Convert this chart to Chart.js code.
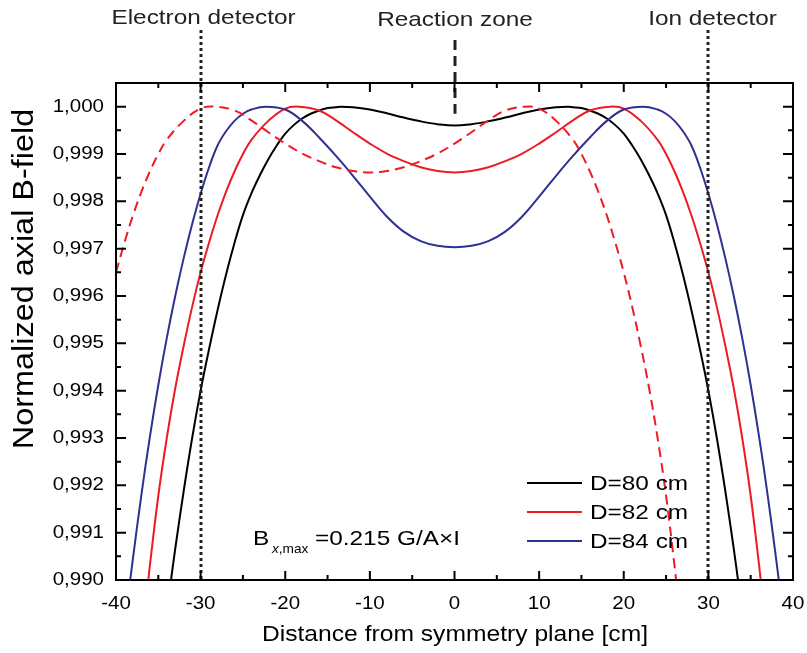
<!DOCTYPE html>
<html>
<head>
<meta charset="utf-8">
<script src="https://cdn.jsdelivr.net/npm/chart.js@4.4.0/dist/chart.umd.min.js"></script>
<style>
  html, body { margin: 0; padding: 0; background: #fff; }
  canvas { display: block; }
</style>
</head>
<body>
<canvas id="chart" width="807" height="653"></canvas>
<script>
// Axis ticks
var xTicks = [-40, -30, -20, -10, 0, 10, 20, 30, 40];
var xMinor = [-35, -25, -15, -5, 5, 15, 25, 35];
var yTicks = [0.990, 0.991, 0.992, 0.993, 0.994, 0.995, 0.996, 0.997, 0.998, 0.999, 1.000];
var yMinor = [0.9905, 0.9915, 0.9925, 0.9935, 0.9945, 0.9955, 0.9965, 0.9975, 0.9985, 0.9995];

// D=80 cm
var d80X = [-33.8, -33.5, -33, -32, -31, -30, -29, -28, -27, -26, -25, -24, -23, -22, -21, -20, -19, -18, -17, -16, -15, -14, -13.4, -12, -10, -8, -6, -4, -2, 0,
            2, 4, 6, 8, 10, 12, 13.4, 14, 15, 16, 17, 18, 19, 20, 21, 22, 23, 24, 25, 26, 27, 28, 29, 30, 31, 32, 33, 33.5, 33.8];
var d80Y = [0.9896, 0.9900, 0.99066, 0.99188, 0.99300, 0.99400, 0.99488, 0.99570, 0.99645, 0.99712, 0.99771, 0.99817, 0.99855, 0.99889, 0.99918, 0.99943, 0.99961, 0.99975, 0.99985, 0.99992, 0.99997, 0.99999, 1.0000, 0.99999, 0.99994, 0.99986, 0.99977, 0.99969, 0.99963, 0.99960,
            0.99963, 0.99969, 0.99977, 0.99986, 0.99994, 0.99999, 1.0000, 0.99999, 0.99997, 0.99992, 0.99985, 0.99975, 0.99961, 0.99943, 0.99918, 0.99889, 0.99855, 0.99817, 0.99771, 0.99712, 0.99645, 0.99570, 0.99488, 0.99400, 0.99300, 0.99188, 0.99066, 0.9900, 0.9896];

// D=82 cm
var d82X = [-36.3, -36, -35, -34, -33, -32, -31, -30, -29, -28, -27, -26, -25, -24, -22, -20, -18.4, -16, -14, -12, -10, -8, -6, -4, -2, 0,
            2, 4, 6, 8, 10, 12, 14, 16, 18.4, 20, 22, 24, 25, 26, 27, 28, 29, 30, 31, 32, 33, 34, 35, 36, 36.3];
var d82Y = [0.9898, 0.99030, 0.99178, 0.99300, 0.99405, 0.99495, 0.99577, 0.99650, 0.99713, 0.99770, 0.99820, 0.99863, 0.99900, 0.99930, 0.99970, 0.99996, 1.0000, 0.99992, 0.99971, 0.99946, 0.99922, 0.99901, 0.99885, 0.99872, 0.99864, 0.99861,
            0.99864, 0.99872, 0.99885, 0.99901, 0.99922, 0.99946, 0.99971, 0.99992, 1.0000, 0.99996, 0.99970, 0.99930, 0.99900, 0.99863, 0.99820, 0.99770, 0.99713, 0.99650, 0.99577, 0.99495, 0.99405, 0.99300, 0.99178, 0.99030, 0.9898];

// D=82 cm, shifted (dashed)
var d82sX = [-40, -39, -38, -37, -36, -35, -34, -32, -30, -28.4, -26, -24, -22, -20, -18, -16, -14, -12, -10, -8, -6, -4, -2, 0,
             2, 4, 6, 8.4, 10, 12, 14, 15, 16, 17, 18, 19, 20, 21, 22, 23, 24, 25, 26, 26.3];
var d82sY = [0.99650, 0.99713, 0.99770, 0.99820, 0.99863, 0.99900, 0.99930, 0.99970, 0.99996, 1.0000, 0.99992, 0.99971, 0.99946, 0.99922, 0.99901, 0.99885, 0.99872, 0.99864, 0.99861, 0.99864, 0.99872, 0.99885, 0.99901, 0.99922,
             0.99946, 0.99971, 0.99992, 1.0000, 0.99996, 0.99970, 0.99930, 0.99900, 0.99863, 0.99820, 0.99770, 0.99713, 0.99650, 0.99577, 0.99495, 0.99405, 0.99300, 0.99178, 0.99030, 0.9898];

// D=84 cm
var d84X = [-38.5, -38, -37, -36, -35, -34, -33, -32, -31, -30, -29, -28, -27, -26, -25, -24, -22.3, -20, -18, -16, -14, -12, -10, -8, -6, -4, -2, 0,
            2, 4, 6, 8, 10, 12, 14, 16, 18, 20, 22.3, 24, 25, 26, 27, 28, 29, 30, 31, 32, 33, 34, 35, 36, 37, 38, 38.5];
var d84Y = [0.98975, 0.99045, 0.99180, 0.99302, 0.99412, 0.99511, 0.99600, 0.99680, 0.99752, 0.99816, 0.99872, 0.99918, 0.99948, 0.99970, 0.99985, 0.99994, 1.0000, 0.99994, 0.99970, 0.99935, 0.99896, 0.99854, 0.99810, 0.99768, 0.99736, 0.99716, 0.99706, 0.99703,
            0.99706, 0.99716, 0.99736, 0.99768, 0.99810, 0.99854, 0.99896, 0.99935, 0.99970, 0.99994, 1.0000, 0.99994, 0.99985, 0.99970, 0.99948, 0.99918, 0.99872, 0.99816, 0.99752, 0.99680, 0.99600, 0.99511, 0.99412, 0.99302, 0.99180, 0.99045, 0.98975];

var FONT = '"Liberation Sans", Arial, sans-serif';
var RED = '#ed1c24';
var BLUE = '#2e3192';
var STRETCH = 1.16;

function toPoints(xs, ys) {
    return xs.map(function(x, i) {
        return {x: x, y: ys[i]};
    });
}

function line(label, xs, ys, color, dash) {
    return {
        label: label,
        data: toPoints(xs, ys),
        borderColor: color,
        borderWidth: 2,
        borderDash: dash || [],
        showLine: true,
        pointRadius: 0,
        tension: 0.4,
        fill: false
    };
}

// Text drawn a bit wider than the font, like the source figure
function text(ctx, str, x, y, font, align, stretch, angle) {
    ctx.save();
    ctx.font = font;
    ctx.textAlign = align || 'left';
    ctx.translate(x, y);
    if (angle) {
        ctx.rotate(angle);
    }
    ctx.scale(stretch || STRETCH, 1);
    ctx.fillText(str, 0, 0);
    ctx.restore();
}

var decorations = {
    id: 'decorations',
    afterDatasetsDraw: function(chart) {
        var ctx = chart.ctx;
        var a = chart.chartArea;
        var sx = chart.scales.x;
        var sy = chart.scales.y;
        ctx.save();

        // detector lines
        ctx.strokeStyle = '#222';
        ctx.lineWidth = 3;
        ctx.setLineDash([3, 3]);
        [-30, 30].forEach(function(v) {
            var px = Math.round(sx.getPixelForValue(v));
            ctx.beginPath();
            ctx.moveTo(px, 30);
            ctx.lineTo(px, a.bottom);
            ctx.stroke();
        });
        // reaction zone marker
        ctx.setLineDash([10, 6]);
        var p0 = Math.round(sx.getPixelForValue(0));
        ctx.beginPath();
        ctx.moveTo(p0, 40);
        ctx.lineTo(p0, sy.getPixelForValue(0.99985));
        ctx.stroke();
        ctx.setLineDash([]);

        // frame
        ctx.strokeStyle = '#000';
        ctx.lineWidth = 2;
        ctx.strokeRect(a.left, a.top, a.right - a.left, a.bottom - a.top);

        // inward ticks on all four sides
        ctx.beginPath();
        function xt(v, len) {
            var px = sx.getPixelForValue(v);
            ctx.moveTo(px, a.bottom); ctx.lineTo(px, a.bottom - len);
            ctx.moveTo(px, a.top); ctx.lineTo(px, a.top + len);
        }
        function yt(v, len) {
            var py = sy.getPixelForValue(v);
            ctx.moveTo(a.left, py); ctx.lineTo(a.left + len, py);
            ctx.moveTo(a.right, py); ctx.lineTo(a.right - len, py);
        }
        xTicks.forEach(function(v) { xt(v, 9); });
        xMinor.forEach(function(v) { xt(v, 5); });
        yTicks.forEach(function(v) { yt(v, 10); });
        yMinor.forEach(function(v) { yt(v, 5); });
        ctx.stroke();

        // tick labels
        ctx.fillStyle = '#000';
        ctx.textBaseline = 'alphabetic';
        xTicks.forEach(function(v) {
            text(ctx, String(v), sx.getPixelForValue(v), 609, '18px ' + FONT, 'center', 1.14);
        });
        ctx.textBaseline = 'middle';
        yTicks.forEach(function(v) {
            text(ctx, v.toFixed(3).replace('.', ','), 104, sy.getPixelForValue(v), '18px ' + FONT, 'right', 1.14);
        });

        // top labels
        ctx.fillStyle = '#222';
        ctx.textBaseline = 'alphabetic';
        text(ctx, 'Electron detector', 203.5, 24, '21px ' + FONT, 'center');
        text(ctx, 'Reaction zone', 455, 26, '21px ' + FONT, 'center');
        text(ctx, 'Ion detector', 712.5, 25, '21px ' + FONT, 'center');

        // axis titles
        ctx.fillStyle = '#000';
        text(ctx, 'Distance from symmetry plane [cm]', 455, 641, '22px ' + FONT, 'center', 1.12);
        ctx.textBaseline = 'middle';
        text(ctx, 'Normalized axial B-field', 25, 279, '30px ' + FONT, 'center', 1.08, -Math.PI / 2);

        // formula
        ctx.textBaseline = 'alphabetic';
        text(ctx, 'B', 253, 545, '21px ' + FONT, 'left');
        ctx.font = 'italic 13px ' + FONT;
        var wx = ctx.measureText('x').width * 1.05;
        text(ctx, 'x', 272, 553, 'italic 13px ' + FONT, 'left', 1.05);
        text(ctx, ',max', 272 + wx, 553, '13px ' + FONT, 'left', 1.05);
        text(ctx, '=0.215 G/A\u00d7I', 315, 545, '21px ' + FONT, 'left');

        // legend
        var rows = [['D=80 cm', '#000', 483], ['D=82 cm', RED, 512], ['D=84 cm', BLUE, 541]];
        rows.forEach(function(r) {
            ctx.strokeStyle = r[1];
            ctx.lineWidth = 2;
            ctx.beginPath();
            ctx.moveTo(527, r[2]);
            ctx.lineTo(582, r[2]);
            ctx.stroke();
            ctx.fillStyle = '#000';
            ctx.textBaseline = 'middle';
            text(ctx, r[0], 590, r[2] + 1, '21px ' + FONT, 'left');
        });

        ctx.restore();
    }
};

new Chart(document.getElementById('chart'), {
    type: 'scatter',
    data: {
        datasets: [
            line('D=82 cm shifted', d82sX, d82sY, RED, [10, 6]),
            line('D=84 cm', d84X, d84Y, BLUE),
            line('D=82 cm', d82X, d82Y, RED),
            line('D=80 cm', d80X, d80Y, '#000')
        ]
    },
    options: {
        responsive: false,
        animation: false,
        devicePixelRatio: 1,
        layout: {padding: {left: 0, top: 83, right: 14, bottom: 0}},
        plugins: {legend: {display: false}, tooltip: {enabled: false}},
        scales: {
            x: {
                type: 'linear',
                min: -40,
                max: 40,
                afterFit: function(s) {
                    s.height = 73;
                    s.paddingLeft = 0;
                    s.paddingRight = 0;
                },
                afterBuildTicks: function(s) {
                    s.ticks = xTicks.map(function(v) { return {value: v}; });
                },
                grid: {display: false, drawTicks: false},
                border: {display: false},
                ticks: {display: false}
            },
            y: {
                type: 'linear',
                min: 0.990,
                max: 1.0005,
                afterFit: function(s) {
                    s.width = 116;
                    s.paddingTop = 0;
                    s.paddingBottom = 0;
                },
                afterBuildTicks: function(s) {
                    s.ticks = yTicks.map(function(v) { return {value: v}; });
                },
                grid: {display: false, drawTicks: false},
                border: {display: false},
                ticks: {display: false}
            }
        }
    },
    plugins: [decorations]
});
</script>
</body>
</html>
